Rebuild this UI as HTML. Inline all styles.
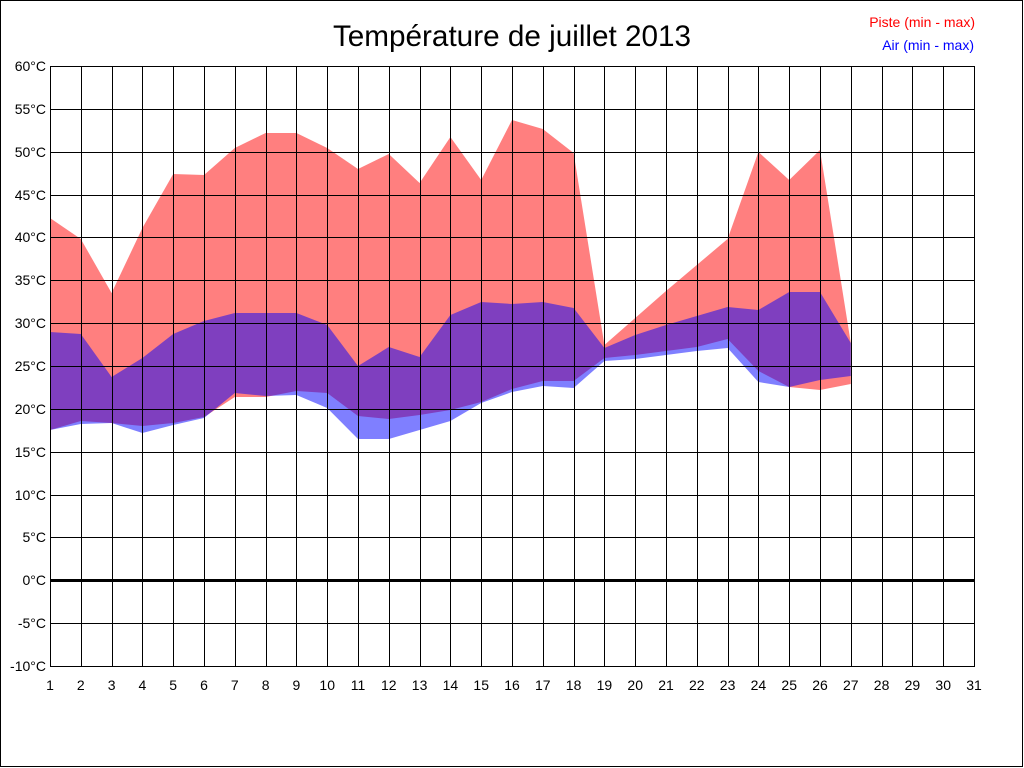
<!DOCTYPE html>
<html><head><meta charset="utf-8"><style>html,body{margin:0;padding:0;background:#fff}svg{display:block}</style></head>
<body>
<svg width="1024" height="768" viewBox="0 0 1024 768" xmlns="http://www.w3.org/2000/svg" font-family="Liberation Sans, Arial, sans-serif">
<rect x="0.5" y="0.5" width="1022" height="766" fill="#fff" stroke="#000"/>
<text x="512" y="46" font-size="29.7" text-anchor="middle">Température de juillet 2013</text>
<text x="975" y="27" font-size="14" fill="#ff0000" text-anchor="end">Piste (min - max)</text>
<text x="974" y="50" font-size="14" fill="#0000ff" text-anchor="end">Air (min - max)</text>
<polygon fill="#ff0000" fill-opacity="0.5" points="50,218 80.8,239 111.6,293 142.4,228 173.2,174 204,175 234.8,148 265.6,133 296.4,133 327.2,148 358,169 388.8,154 419.6,183 450.4,137 481.2,180 512,120 542.8,129 573.6,153 604.4,345 635.2,318 666,291 696.8,265 727.6,239 758.4,152 789.2,180 820,150 850.8,343 850.8,384 820,390 789.2,387 758.4,371 727.6,339 696.8,347 666,351 635.2,355 604.4,358 573.6,381 542.8,381 512,389 481.2,402 450.4,410 419.6,415 388.8,419 358,416 327.2,393 296.4,391 265.6,397 234.8,397 204,417 173.2,423 142.4,426 111.6,423 80.8,421 50,430"/>
<polygon fill="#0000ff" fill-opacity="0.5" points="50,332 80.8,334 111.6,377 142.4,358 173.2,334 204,321 234.8,313 265.6,313 296.4,313 327.2,325 358,366 388.8,347 419.6,357 450.4,315 481.2,302 512,304 542.8,302 573.6,308 604.4,348 635.2,335 666,325 696.8,316 727.6,307 758.4,310 789.2,292 820,292 850.8,343 850.8,376 820,380 789.2,387 758.4,382 727.6,348 696.8,351 666,355 635.2,359 604.4,361 573.6,388 542.8,386 512,392 481.2,403 450.4,421 419.6,430 388.8,439 358,439 327.2,408 296.4,395 265.6,396 234.8,393 204,418 173.2,425 142.4,433 111.6,423 80.8,424 50,430"/>
<g stroke="#000" stroke-width="1">
<line x1="50.5" y1="66" x2="50.5" y2="666"/><line x1="81.5" y1="66" x2="81.5" y2="666"/><line x1="112.5" y1="66" x2="112.5" y2="666"/><line x1="142.5" y1="66" x2="142.5" y2="666"/><line x1="173.5" y1="66" x2="173.5" y2="666"/><line x1="204.5" y1="66" x2="204.5" y2="666"/><line x1="235.5" y1="66" x2="235.5" y2="666"/><line x1="266.5" y1="66" x2="266.5" y2="666"/><line x1="296.5" y1="66" x2="296.5" y2="666"/><line x1="327.5" y1="66" x2="327.5" y2="666"/><line x1="358.5" y1="66" x2="358.5" y2="666"/><line x1="389.5" y1="66" x2="389.5" y2="666"/><line x1="420.5" y1="66" x2="420.5" y2="666"/><line x1="450.5" y1="66" x2="450.5" y2="666"/><line x1="481.5" y1="66" x2="481.5" y2="666"/><line x1="512.5" y1="66" x2="512.5" y2="666"/><line x1="543.5" y1="66" x2="543.5" y2="666"/><line x1="574.5" y1="66" x2="574.5" y2="666"/><line x1="604.5" y1="66" x2="604.5" y2="666"/><line x1="635.5" y1="66" x2="635.5" y2="666"/><line x1="666.5" y1="66" x2="666.5" y2="666"/><line x1="697.5" y1="66" x2="697.5" y2="666"/><line x1="728.5" y1="66" x2="728.5" y2="666"/><line x1="758.5" y1="66" x2="758.5" y2="666"/><line x1="789.5" y1="66" x2="789.5" y2="666"/><line x1="820.5" y1="66" x2="820.5" y2="666"/><line x1="851.5" y1="66" x2="851.5" y2="666"/><line x1="882.5" y1="66" x2="882.5" y2="666"/><line x1="912.5" y1="66" x2="912.5" y2="666"/><line x1="943.5" y1="66" x2="943.5" y2="666"/><line x1="974.5" y1="66" x2="974.5" y2="666"/>
<line x1="50" y1="66.5" x2="975" y2="66.5"/><line x1="50" y1="109.5" x2="975" y2="109.5"/><line x1="50" y1="152.5" x2="975" y2="152.5"/><line x1="50" y1="195.5" x2="975" y2="195.5"/><line x1="50" y1="237.5" x2="975" y2="237.5"/><line x1="50" y1="280.5" x2="975" y2="280.5"/><line x1="50" y1="323.5" x2="975" y2="323.5"/><line x1="50" y1="366.5" x2="975" y2="366.5"/><line x1="50" y1="409.5" x2="975" y2="409.5"/><line x1="50" y1="452.5" x2="975" y2="452.5"/><line x1="50" y1="495.5" x2="975" y2="495.5"/><line x1="50" y1="537.5" x2="975" y2="537.5"/><line x1="50" y1="580.5" x2="975" y2="580.5" stroke-width="3"/><line x1="50" y1="623.5" x2="975" y2="623.5"/><line x1="50" y1="666.5" x2="975" y2="666.5"/>
</g>
<g font-size="14" text-anchor="end">
<text x="46" y="71">60°C</text><text x="46" y="114">55°C</text><text x="46" y="157">50°C</text><text x="46" y="200">45°C</text><text x="46" y="242">40°C</text><text x="46" y="285">35°C</text><text x="46" y="328">30°C</text><text x="46" y="371">25°C</text><text x="46" y="414">20°C</text><text x="46" y="457">15°C</text><text x="46" y="500">10°C</text><text x="46" y="542">5°C</text><text x="46" y="585">0°C</text><text x="46" y="628">-5°C</text><text x="46" y="671">-10°C</text>
</g>
<g font-size="14" text-anchor="middle">
<text x="50" y="690">1</text><text x="80.8" y="690">2</text><text x="111.6" y="690">3</text><text x="142.4" y="690">4</text><text x="173.2" y="690">5</text><text x="204" y="690">6</text><text x="234.8" y="690">7</text><text x="265.6" y="690">8</text><text x="296.4" y="690">9</text><text x="327.2" y="690">10</text><text x="358" y="690">11</text><text x="388.8" y="690">12</text><text x="419.6" y="690">13</text><text x="450.4" y="690">14</text><text x="481.2" y="690">15</text><text x="512" y="690">16</text><text x="542.8" y="690">17</text><text x="573.6" y="690">18</text><text x="604.4" y="690">19</text><text x="635.2" y="690">20</text><text x="666" y="690">21</text><text x="696.8" y="690">22</text><text x="727.6" y="690">23</text><text x="758.4" y="690">24</text><text x="789.2" y="690">25</text><text x="820" y="690">26</text><text x="850.8" y="690">27</text><text x="881.6" y="690">28</text><text x="912.4" y="690">29</text><text x="943.2" y="690">30</text><text x="974" y="690">31</text>
</g>
</svg>
</body></html>
